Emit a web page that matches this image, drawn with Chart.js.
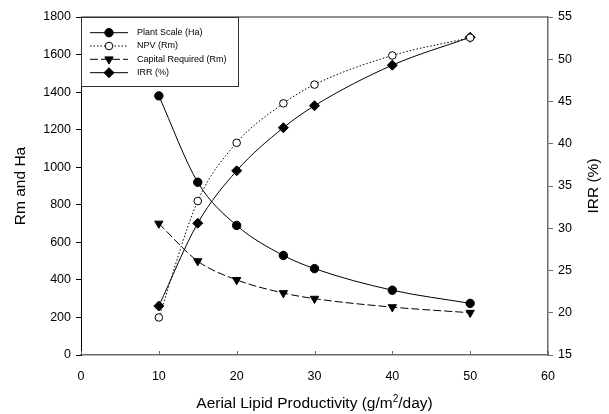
<!DOCTYPE html>
<html lang="en">
<head>
    <meta charset="UTF-8">
    <title>Aerial Lipid Productivity</title>
    <script src="https://cdn.jsdelivr.net/npm/chart.js@4.4.1/dist/chart.umd.min.js"></script>
    <style>
        body { margin: 0; background: #fff; }
        canvas { display: block; }
    </style>
</head>
<body>

<canvas id="theChart" width="609" height="414"></canvas>

<script>
    // values
    var productivity = [10, 15, 20, 26, 30, 40, 50];          // g/m2/day
    var plantScale   = [1380, 920, 690, 530, 460, 345, 275];  // Ha
    var npv          = [200, 820, 1130, 1340, 1440, 1595, 1690]; // Rm
    var capital      = [700, 500, 400, 330, 300, 255, 225];   // Rm
    var irr          = [20.8, 30.6, 36.8, 41.9, 44.5, 49.3, 52.6]; // %
    //
    var FONT = "'Liberation Sans', Arial, sans-serif";
    var GREY = "#6b6b6b";

    function toPoints(ys) {
        return productivity.map(function (x, i) { return { x: x, y: ys[i] }; });
    }
    function plain(v) { return String(v); }

    // frame, inward x ticks, axis titles and the boxed legend
    var decorations = {
        id: "decorations",
        afterDraw: function (chart) {
            var ctx = chart.ctx;
            var area = chart.chartArea;
            var xs = chart.scales.x;
            ctx.save();

            // top frame line
            ctx.strokeStyle = GREY;
            ctx.lineWidth = 1.5;
            ctx.beginPath();
            ctx.moveTo(area.left, area.top);
            ctx.lineTo(area.right, area.top);
            ctx.stroke();

            // x ticks point into the plot
            ctx.lineWidth = 1;
            xs.ticks.forEach(function (t) {
                var px = Math.round(xs.getPixelForValue(t.value)) + 0.5;
                ctx.beginPath();
                ctx.moveTo(px, area.bottom);
                ctx.lineTo(px, area.bottom - 4);
                ctx.stroke();
            });

            // axis titles
            ctx.fillStyle = "#000";
            ctx.font = "15.5px " + FONT;
            ctx.textAlign = "center";
            ctx.textBaseline = "middle";
            var midY = (area.top + area.bottom) / 2;
            ctx.save();
            ctx.translate(21, midY);
            ctx.rotate(-Math.PI / 2);
            ctx.fillText("Rm and Ha", 0, 0);
            ctx.restore();
            ctx.save();
            ctx.translate(593.5, midY);
            ctx.rotate(-Math.PI / 2);
            ctx.fillText("IRR (%)", 0, 0);
            ctx.restore();

            // x title with superscript 2
            var part1 = "Aerial Lipid Productivity (g/m";
            var sup = "2";
            var part2 = "/day)";
            ctx.textBaseline = "alphabetic";
            ctx.textAlign = "left";
            ctx.font = "15.5px " + FONT;
            var w1 = ctx.measureText(part1).width;
            var w3 = ctx.measureText(part2).width;
            ctx.font = "10px " + FONT;
            var w2 = ctx.measureText(sup).width;
            var startX = (area.left + area.right) / 2 - (w1 + w2 + w3) / 2;
            var baseY = 408;
            ctx.font = "15.5px " + FONT;
            ctx.fillText(part1, startX, baseY);
            ctx.font = "10px " + FONT;
            ctx.fillText(sup, startX + w1, baseY - 6);
            ctx.font = "15.5px " + FONT;
            ctx.fillText(part2, startX + w1 + w2, baseY);

            // legend box
            var box = { left: 81, top: 17, right: 238, bottom: 86 };
            ctx.fillStyle = "#fff";
            ctx.fillRect(box.left, box.top, box.right - box.left, box.bottom - box.top);
            ctx.strokeStyle = "#333";
            ctx.lineWidth = 1;
            ctx.strokeRect(box.left + 0.5, box.top + 0.5, box.right - box.left, box.bottom - box.top);

            var rows = [32.7, 46, 59.3, 72.7];
            chart.data.datasets.forEach(function (ds, i) {
                var y = rows[i];
                ctx.strokeStyle = "#000";
                ctx.lineWidth = ds.borderWidth;
                ctx.setLineDash(ds.borderDash || []);
                ctx.beginPath();
                ctx.moveTo(90, y);
                ctx.lineTo(128, y);
                ctx.stroke();
                ctx.setLineDash([]);
                ctx.fillStyle = ds.pointBackgroundColor;
                ctx.strokeStyle = ds.pointBorderColor;
                ctx.lineWidth = 1;
                Chart.helpers.drawPoint(ctx, {
                    pointStyle: ds.pointStyle,
                    radius: ds.pointRadius,
                    rotation: ds.pointRotation || 0,
                    borderWidth: 1
                }, 109, y);
                ctx.fillStyle = "#000";
                ctx.font = "9px " + FONT;
                ctx.textAlign = "left";
                ctx.textBaseline = "middle";
                ctx.fillText(ds.label, 137, y);
            });
            ctx.restore();
        }
    };

    var lineChart = new Chart("theChart", {
        type: "line",
        data: {
            datasets: [{
                label: "Plant Scale (Ha)",
                data: toPoints(plantScale),
                yAxisID: "y",
                borderColor: "#000",
                borderWidth: 1,
                pointStyle: "circle",
                pointRadius: 4.2,
                pointBackgroundColor: "#000",
                pointBorderColor: "#000",
                cubicInterpolationMode: "monotone"
            }, {
                label: "NPV (Rm)",
                data: toPoints(npv),
                yAxisID: "y",
                borderColor: "#000",
                borderWidth: 1,
                borderDash: [1.5, 2],
                pointStyle: "circle",
                pointRadius: 3.8,
                pointBackgroundColor: "#fff",
                pointBorderColor: "#000",
                cubicInterpolationMode: "monotone"
            }, {
                label: "Capital Required (Rm)",
                data: toPoints(capital),
                yAxisID: "y",
                borderColor: "#000",
                borderWidth: 1,
                borderDash: [8, 3],
                pointStyle: "triangle",
                pointRotation: 180,
                pointRadius: 4.8,
                pointBackgroundColor: "#000",
                pointBorderColor: "#000",
                cubicInterpolationMode: "monotone"
            }, {
                label: "IRR (%)",
                data: toPoints(irr),
                yAxisID: "y1",
                borderColor: "#000",
                borderWidth: 1,
                pointStyle: "rectRot",
                pointRadius: 5,
                pointBackgroundColor: "#000",
                pointBorderColor: "#000",
                cubicInterpolationMode: "monotone"
            }]
        },
        options: {
            responsive: false,
            animation: false,
            layout: { padding: { top: 17, left: 0, right: 0, bottom: 0 } },
            plugins: {
                legend: { display: false },
                tooltip: { enabled: false }
            },
            scales: {
                x: {
                    type: "linear",
                    min: 0,
                    max: 60,
                    afterFit: function (s) { s.height = 59; },
                    ticks: { stepSize: 10, padding: 6, color: "#000", callback: plain, font: { family: FONT, size: 12.5 } },
                    grid: { display: false },
                    border: { display: true, color: GREY, width: 1.5 }
                },
                y: {
                    position: "left",
                    min: 0,
                    max: 1800,
                    afterFit: function (s) { s.width = 81; },
                    ticks: { stepSize: 200, padding: 5, color: "#000", callback: plain, font: { family: FONT, size: 12.5 } },
                    grid: { drawOnChartArea: false, drawTicks: true, tickLength: 5, color: "#000" },
                    border: { display: true, color: "#000", width: 1 }
                },
                y1: {
                    position: "right",
                    min: 15,
                    max: 55,
                    afterFit: function (s) { s.width = 61; },
                    ticks: { stepSize: 5, padding: 5, color: "#000", callback: plain, font: { family: FONT, size: 12.5 } },
                    grid: { drawOnChartArea: false, drawTicks: true, tickLength: 5, color: GREY },
                    border: { display: true, color: GREY, width: 1.5 }
                }
            }
        },
        plugins: [decorations]
    });
</script>

</body>
</html>
